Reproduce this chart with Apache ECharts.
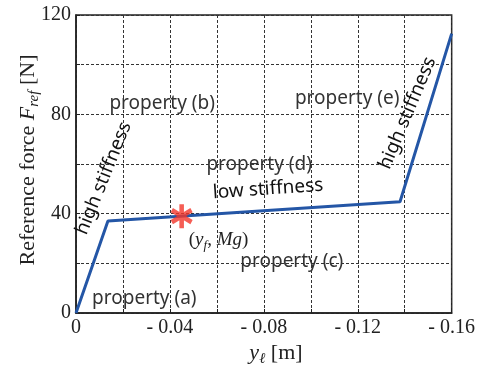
<!DOCTYPE html>
<html><head><meta charset="utf-8">
<script src="https://cdn.jsdelivr.net/npm/echarts@6/dist/echarts.min.js"></script>
<style>html,body{margin:0;padding:0;background:#fff}#c{width:478px;height:368px}</style>
</head><body><div id="c"></div>
<script>
// Data
var lineX = [0, -0.0136, -0.138, -0.16];
var lineY = [0, 37, 44.8, 112.5];
var yieldPoint = [-0.045, 39];
var xTicks = [0, -0.04, -0.08, -0.12, -0.16];
var yTicks = [0, 40, 80, 120];
// annotation texts and their data-coordinate anchors
var annoText = ['property (a)', 'property (b)', 'property (c)', 'property (d)', 'property (e)', 'low stiffness', 'high stiffness', 'high stiffness'];
var annoX = [-0.0291, -0.0367, -0.0919, -0.078, -0.1155, -0.0818, -0.0118, -0.1412];
var annoY = [6.0, 84.5, 20.9, 59.9, 86.5, 49.9, 54.3, 80.5];
var annoRot = [0, 0, 0, 0, 0, 4, 68, 67];
var yfLabelPos = [-0.0607, 29.4];

var chart = echarts.init(document.getElementById('c'));
var serif = '"Liberation Serif","Times New Roman",serif';
var sans = '"Noto Sans",sans-serif';
var pts = lineX.map(function(x, i){ return [x, lineY[i]]; });

// six-armed asterisk marker shape
function starPath(){
  var L = 12, W = 2.4, s = 'path://';
  [90, 30, 150].forEach(function(a){
    var r = a * Math.PI / 180, dx = Math.cos(r), dy = -Math.sin(r), nx = -dy, ny = dx;
    var c = [[L*dx + W*nx, L*dy + W*ny], [L*dx - W*nx, L*dy - W*ny], [-L*dx - W*nx, -L*dy - W*ny], [-L*dx + W*nx, -L*dy + W*ny]];
    s += 'M' + c.map(function(q){ return q[0].toFixed(2) + ',' + q[1].toFixed(2); }).join(' L') + ' Z ';
  });
  return s;
}

function near(v, arr){ return arr.some(function(t){ return Math.abs(t - v) < 1e-6; }); }

chart.setOption({
  animation: false,
  grid: {left: 76, right: 22, top: 15, bottom: 55, show: true, borderColor: '#222', borderWidth: 1.5},
  xAxis: {
    type: 'value', inverse: true, min: -0.16, max: 0, interval: 0.02,
    axisLine: {show: true, lineStyle: {color: '#222', width: 1.5}},
    axisTick: {show: true, inside: true, length: 4, lineStyle: {color: '#222'}},
    splitLine: {show: true, lineStyle: {color: '#333', type: [3, 2], width: 1}},
    axisLabel: {
      margin: 5, color: '#222', fontFamily: serif, fontSize: 20,
      formatter: function(v){
        if (!near(v, xTicks)) return '';
        if (Math.abs(v) < 1e-9) return '0';
        return '- ' + Math.abs(v).toFixed(2);
      }
    }
  },
  yAxis: {
    type: 'value', min: 0, max: 120, interval: 20,
    axisLine: {show: true, lineStyle: {color: '#222', width: 1.5}},
    axisTick: {show: true, inside: true, length: 4, lineStyle: {color: '#222'}},
    splitLine: {show: true, lineStyle: {color: '#333', type: [3, 2], width: 1}},
    axisLabel: {
      margin: 5, color: '#222', fontFamily: serif, fontSize: 20,
      formatter: function(v){ return near(v, yTicks) ? String(v) : ''; }
    }
  },
  series: [
    {type: 'line', data: pts, showSymbol: false, symbol: 'none',
     lineStyle: {color: '#2456a6', width: 3}, z: 3},
    {type: 'scatter', data: [yieldPoint], symbol: starPath(), symbolSize: [22, 24],
     itemStyle: {color: '#f2362b'}, z: 4}
  ]
});

var g = [];
for (var i = 0; i < annoText.length; i++) {
  var p = chart.convertToPixel({gridIndex: 0}, [annoX[i], annoY[i]]);
  g.push({
    type: 'text', x: p[0], y: p[1], rotation: annoRot[i] * Math.PI / 180,
    style: {text: annoText[i], font: '19px ' + sans, fill: annoText[i].indexOf('stiff') >= 0 ? '#111' : '#333',
            align: 'center', verticalAlign: 'middle'},
    z: 10
  });
}
var yp = chart.convertToPixel({gridIndex: 0}, yfLabelPos);
g.push({
  type: 'text', x: yp[0], y: yp[1],
  style: {
    text: '{n|(}{i|y}{s|f}{n|, }{i|Mg}{n|)}',
    align: 'center', verticalAlign: 'middle', fill: '#222',
    rich: {
      n: {fontFamily: serif, fontSize: 19, lineHeight: 24, fill: '#222'},
      i: {fontFamily: serif, fontSize: 19, fontStyle: 'italic', lineHeight: 24, fill: '#222'},
      s: {fontFamily: serif, fontSize: 13, fontStyle: 'italic', lineHeight: 12, verticalAlign: 'bottom', fill: '#222'}
    }
  }, z: 10
});
// axis titles
g.push({
  type: 'text', x: 28, y: 160, rotation: Math.PI / 2,
  style: {
    text: '{n|Reference force }{i|F}{s|ref}{n| [N]}',
    align: 'center', verticalAlign: 'middle',
    rich: {
      n: {fontFamily: serif, fontSize: 22, lineHeight: 28, fill: '#222'},
      i: {fontFamily: serif, fontSize: 22, fontStyle: 'italic', lineHeight: 28, fill: '#222'},
      s: {fontFamily: serif, fontSize: 15, fontStyle: 'italic', lineHeight: 14, verticalAlign: 'bottom', fill: '#222'}
    }
  }
});
g.push({
  type: 'text', x: 276, y: 353,
  style: {
    text: '{i|y}{s|ℓ}{n| [m]}',
    align: 'center', verticalAlign: 'middle',
    rich: {
      n: {fontFamily: serif, fontSize: 22, lineHeight: 28, fill: '#222'},
      i: {fontFamily: serif, fontSize: 22, fontStyle: 'italic', lineHeight: 28, fill: '#222'},
      s: {fontFamily: serif, fontSize: 15, fontStyle: 'italic', lineHeight: 14, verticalAlign: 'bottom', fill: '#222'}
    }
  }
});
chart.setOption({graphic: g});
</script></body></html>
